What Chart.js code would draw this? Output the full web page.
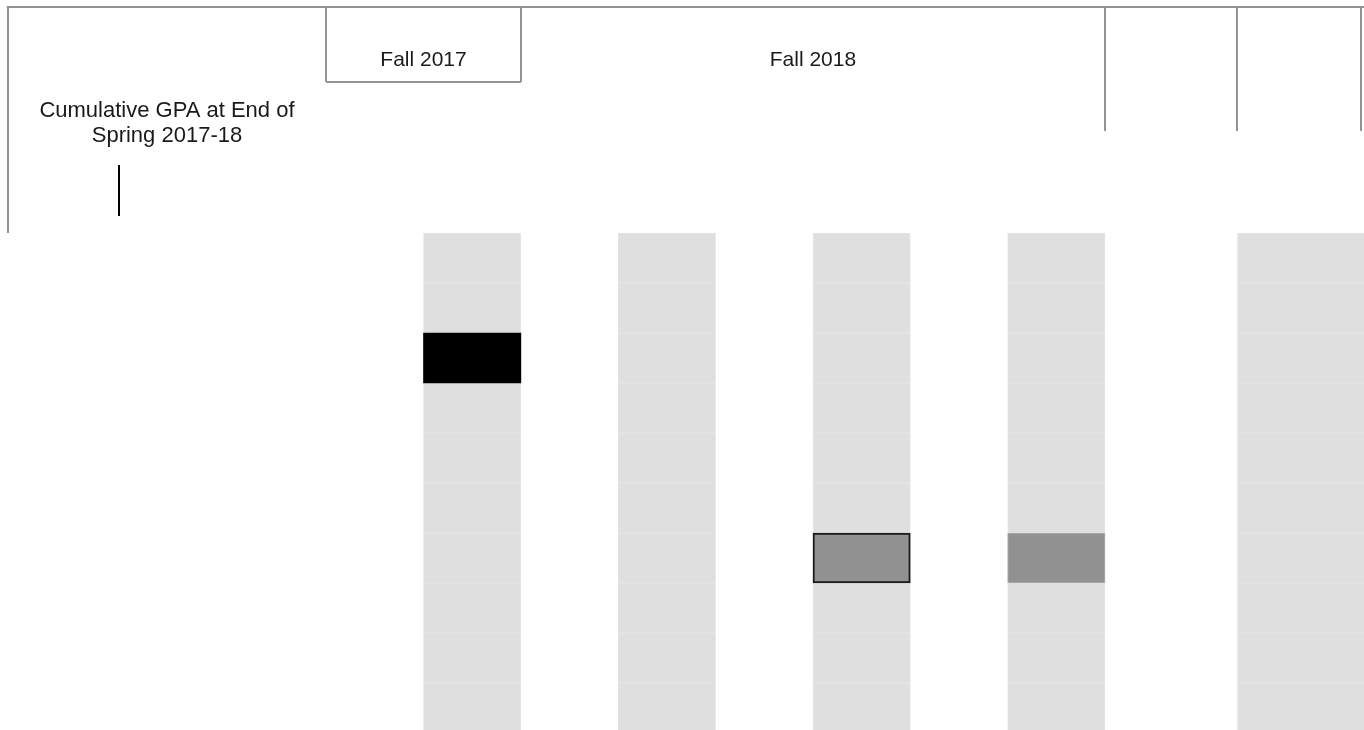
<!DOCTYPE html>
<html>
<head>
<meta charset="utf-8">
<script src="https://cdn.jsdelivr.net/npm/chart.js"></script>
<style>
	html, body { margin: 0; padding: 0; overflow: hidden; background: #fff; }
	canvas { display: block; }
</style>
</head>
<body>
<canvas id="gpa" width="1364" height="733"></canvas>
<script>
//행 라벨 (그림에서는 보이지 않음)
const rowLabels = ['r1', 'r2', 'r3', 'r4', 'r5', 'r6', 'r7', 'r8', 'r9', 'r10'];

//회색 열 범위 (격자 단위, 0 = Fall 2017 왼쪽 끝)
const columnSpans = [[1, 2], [3, 4], [5, 6], [7, 8], [9.36, 10.8]];

//강조된 칸: 열 번호, 행 번호
const markColumns = [0, 2, 3];
const markRows = [2, 6, 6];

//머리글
const headerLabels = [['Cumulative GPA at End of', 'Spring 2017-18'], ['Fall 2017'], ['Fall 2018'], [], []];
const headerSpans = [[-3.27, 0], [0, 2], [2, 8], [8, 9.36], [9.36, 10.63]];
const markerValue = -2.13;

const LINE = '#939393';

//머리글 그리기
const headerPlugin = {
	id: 'header',
	afterDraw(chart) {
		const ctx = chart.ctx;
		const x = chart.scales.x;
		const top = 7;
		ctx.save();
		ctx.strokeStyle = LINE;
		ctx.lineWidth = 2;

		//윗줄
		ctx.beginPath();
		ctx.moveTo(x.getPixelForValue(headerSpans[0][0]) - 1, top);
		ctx.lineTo(chart.width, top);
		ctx.stroke();

		//세로줄 (아래 끝 높이)
		const edges = [
			[headerSpans[0][0], 233],
			[headerSpans[1][0], 82],
			[headerSpans[1][1], 82],
			[headerSpans[3][0], 131],
			[headerSpans[4][0], 131],
			[headerSpans[4][1], 131]
		];
		edges.forEach(function (e) {
			const px = Math.round(x.getPixelForValue(e[0]));
			ctx.beginPath();
			ctx.moveTo(px, top);
			ctx.lineTo(px, e[1]);
			ctx.stroke();
		});

		//Fall 2017 아랫줄
		ctx.beginPath();
		ctx.moveTo(x.getPixelForValue(headerSpans[1][0]), 82);
		ctx.lineTo(x.getPixelForValue(headerSpans[1][1]), 82);
		ctx.stroke();

		//글자
		ctx.fillStyle = '#1a1a1a';
		ctx.textAlign = 'center';
		ctx.textBaseline = 'alphabetic';
		const textY = [[117, 142], [66], [66], [], []];
		const textSize = [22, 21, 21, 21, 21];
		headerLabels.forEach(function (lines, i) {
			const cx = (x.getPixelForValue(headerSpans[i][0]) + x.getPixelForValue(headerSpans[i][1])) / 2;
			ctx.font = textSize[i] + 'px "Liberation Sans", Arial, sans-serif';
			lines.forEach(function (t, j) {
				ctx.fillText(t, cx, textY[i][j]);
			});
		});

		//검은 세로 표시
		ctx.strokeStyle = '#000';
		ctx.lineWidth = 2;
		const mx = Math.round(x.getPixelForValue(markerValue));
		ctx.beginPath();
		ctx.moveTo(mx, 165);
		ctx.lineTo(mx, 216);
		ctx.stroke();
		ctx.restore();
	}
};

//데이터셋 만들기
const datasets = [];

//강조 칸 (맨 위에 그려지도록 먼저 넣음)
datasets.push({
	data: markColumns.map(function (c, i) {
		return { x: columnSpans[c], y: rowLabels[markRows[i]] };
	}),
	backgroundColor: ['#000000', '#919191', '#919191'],
	borderColor: ['#000000', '#1a1a1a', '#b0b0b0'],
	borderWidth: [0, 2, 1],
	borderSkipped: false,
	grouped: false
});

//회색 바탕 칸
columnSpans.forEach(function (span) {
	datasets.push({
		data: rowLabels.map(function (r) {
			return { x: span, y: r };
		}),
		backgroundColor: '#dfdfdf',
		borderColor: '#e5e5e5',
		borderWidth: 1,
		borderSkipped: false,
		grouped: false
	});
});

new Chart(document.getElementById('gpa'), {
	type: 'bar',
	data: { labels: rowLabels, datasets: datasets },
	options: {
		indexAxis: 'y',
		responsive: false,
		animation: false,
		layout: { padding: { top: 233, left: 0, right: 0, bottom: 0 } },
		datasets: { bar: { categoryPercentage: 1, barPercentage: 1 } },
		scales: {
			x: { type: 'linear', min: -3.35, max: 10.66, display: false },
			y: { type: 'category', labels: rowLabels, display: false }
		},
		plugins: { legend: { display: false }, tooltip: { enabled: false } }
	},
	plugins: [headerPlugin]
});
</script>
</body>
</html>
